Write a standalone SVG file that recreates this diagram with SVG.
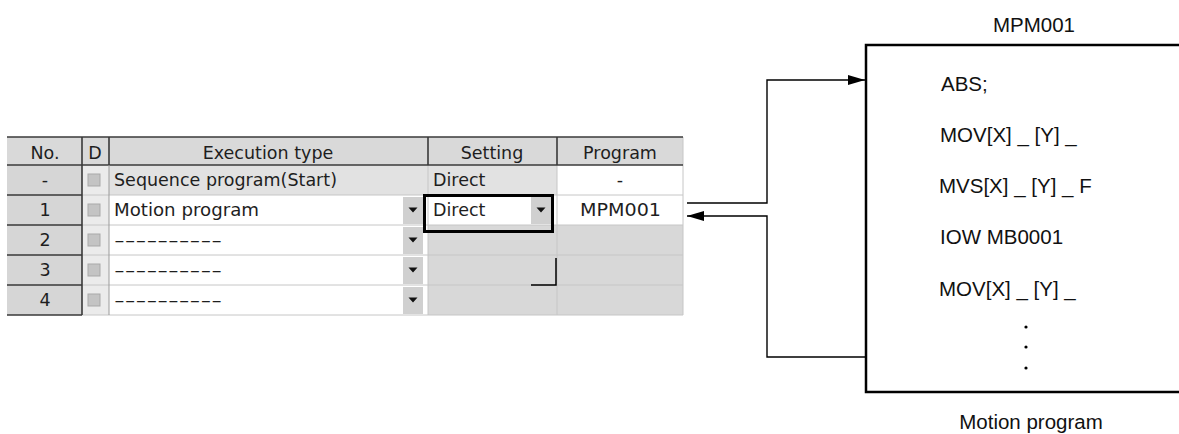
<svg xmlns="http://www.w3.org/2000/svg" width="1179" height="434" viewBox="0 0 1179 434">
<style>
.t{font-family:"DejaVu Sans","Liberation Sans",sans-serif;font-size:17.5px;fill:#1e1e1e}
.m{text-anchor:middle}
.r{font-family:"Liberation Sans",Arial,sans-serif;font-size:20.5px;fill:#111}
.dk{stroke:#3a3a3a;stroke-width:1.6;fill:none}
.lt{stroke:#c6c6c6;stroke-width:1;fill:none}
.btn{fill:#d0d0d0}
.tri{fill:#111}
.cb{fill:#c4c4c4;stroke:#a9a9a9;stroke-width:1}
.con{stroke:#000;stroke-width:1.4;fill:none}
</style>
<defs>
<marker id="ah" viewBox="0 0 17 10" refX="17" refY="5" markerWidth="17" markerHeight="10" markerUnits="userSpaceOnUse" orient="auto">
<path d="M0,0 L17,5 L0,10 Z" fill="#000"/>
</marker>
</defs>
<rect width="1179" height="434" fill="#fff"/>

<g id="table">
<rect x="7" y="137" width="676" height="28" fill="#d9d9d9"/>
<rect x="7" y="165" width="75" height="150" fill="#d6d6d6"/>
<rect x="82" y="165" width="27" height="150" fill="#ebebeb"/>
<rect x="109" y="165" width="448" height="30" fill="#e2e2e2"/>
<rect x="557" y="165" width="126" height="30" fill="#fff"/>
<rect x="109" y="195" width="319" height="120" fill="#fff"/>
<rect x="428" y="195" width="255" height="30" fill="#fff"/>
<rect x="428" y="225" width="255" height="90" fill="#d8d8d8"/>

<path class="lt" d="M82,195H683M82,225H683M82,255H683M82,285H683M82,315H683"/>
<path class="lt" d="M428,165V315M557,165V315M683,137V315"/>
<path class="dk" d="M7,137H683" stroke-width="2"/>
<path class="dk" d="M7,165H683" stroke-width="2"/>
<path class="dk" d="M7,195H82M7,225H82M7,255H82M7,285H82M7,315H82"/>
<path class="dk" d="M82,137V315M109,137V165M428,137V165M557,137V165"/>
<path d="M109,165V315" stroke="#9a9a9a" stroke-width="1"/>

<rect class="cb" x="88" y="174" width="12" height="12"/>
<rect class="cb" x="88" y="204" width="12" height="12"/>
<rect class="cb" x="88" y="234" width="12" height="12"/>
<rect class="cb" x="88" y="264" width="12" height="12"/>
<rect class="cb" x="88" y="294" width="12" height="12"/>

<rect class="btn" x="403" y="197" width="20" height="27"/>
<rect class="btn" x="403" y="227" width="20" height="27"/>
<rect class="btn" x="403" y="257" width="20" height="27"/>
<rect class="btn" x="403" y="287" width="20" height="27"/>
<rect class="btn" x="531" y="197" width="20" height="27"/>
<path class="tri" d="M408.5,207.5h9l-4.5,5zM408.5,237.5h9l-4.5,5zM408.5,267.5h9l-4.5,5zM408.5,297.5h9l-4.5,5zM536.5,207.5h9l-4.5,5z"/>

<rect x="424.5" y="195.5" width="128" height="36" fill="none" stroke="#000" stroke-width="3"/>
<path d="M531,285H556V258" fill="none" stroke="#000" stroke-width="1.5"/>

<text class="t m" x="45" y="159">No.</text>
<text class="t m" x="95" y="159">D</text>
<text class="t m" x="268" y="159">Execution type</text>
<text class="t m" x="492" y="159">Setting</text>
<text class="t m" x="620" y="159">Program</text>

<text class="t m" x="45" y="186">-</text>
<text class="t" x="114" y="186" textLength="223" lengthAdjust="spacingAndGlyphs">Sequence program(Start)</text>
<text class="t" x="433" y="186">Direct</text>
<text class="t m" x="620" y="186">-</text>

<text class="t m" x="45" y="216">1</text>
<text class="t" x="114" y="216" textLength="145" lengthAdjust="spacingAndGlyphs">Motion program</text>
<text class="t" x="433" y="216">Direct</text>
<text class="t" x="580" y="216" textLength="81" lengthAdjust="spacingAndGlyphs">MPM001</text>

<text class="t m" x="45" y="246">2</text>
<text class="t" x="114" y="246" textLength="108" lengthAdjust="spacingAndGlyphs">----------</text>
<text class="t m" x="45" y="276">3</text>
<text class="t" x="114" y="276" textLength="108" lengthAdjust="spacingAndGlyphs">----------</text>
<text class="t m" x="45" y="306">4</text>
<text class="t" x="114" y="306" textLength="108" lengthAdjust="spacingAndGlyphs">----------</text>
</g>

<g id="motion-program">
<path d="M1182,45H866V392H1182" fill="none" stroke="#000" stroke-width="2.5"/>
<text class="r m" x="1034" y="32">MPM001</text>
<text class="r" x="941" y="91">ABS;</text>
<text class="r" x="940" y="142">MOV[X] _ [Y] _</text>
<text class="r" x="939" y="193">MVS[X] _ [Y] _ F</text>
<text class="r" x="940" y="244">IOW MB0001</text>
<text class="r" x="939" y="296">MOV[X] _ [Y] _</text>
<circle cx="1026" cy="327" r="1.6" fill="#000"/>
<circle cx="1026" cy="347" r="1.6" fill="#000"/>
<circle cx="1026" cy="368" r="1.6" fill="#000"/>
<text class="r m" x="1031" y="429">Motion program</text>
</g>

<g id="connectors">
<path class="con" d="M687,203H767V80H865" marker-end="url(#ah)"/>
<path class="con" d="M866,357H767V216H687" marker-end="url(#ah)"/>
</g>
</svg>
